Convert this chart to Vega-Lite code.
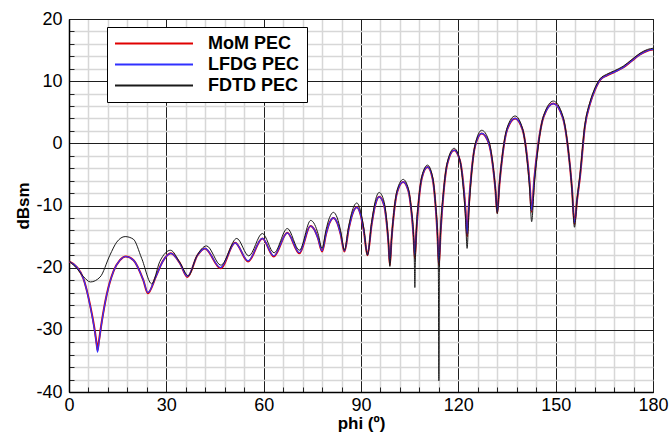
{
  "$schema": "https://vega.github.io/schema/vega-lite/v6.json",
  "width": 584,
  "height": 373,
  "autosize": {"type": "none"},
  "padding": {"left": 69, "top": 19, "right": 17, "bottom": 41},
  "background": "white",
  "config": {
    "view": {"stroke": "black", "strokeWidth": 1},
    "axis": {
      "domainColor": "black",
      "labelFont": "Liberation Sans",
      "labelFontSize": 18,
      "labelColor": "black",
      "titleFont": "Liberation Sans",
      "titleFontSize": 17,
      "titleFontWeight": "bold",
      "titleColor": "black"
    },
    "legend": {
      "orient": "none",
      "legendX": 38,
      "legendY": 8,
      "strokeColor": "black",
      "fillColor": "white",
      "padding": 7,
      "symbolType": "stroke",
      "symbolSize": 6084,
      "symbolStrokeWidth": 2,
      "clipHeight": 19,
      "rowPadding": 2,
      "labelFont": "Liberation Sans",
      "labelFontSize": 18,
      "labelFontWeight": "bold",
      "labelColor": "black",
      "labelOffset": 14
    }
  },
  "datasets": {
    "mom": [
      {"phi": 0, "dbsm": -19.0}, {"phi": 2.4, "dbsm": -19.9}, {"phi": 4.4, "dbsm": -21.7}, {"phi": 6.5, "dbsm": -26.0},
      {"phi": 8.0, "dbsm": -30.3}, {"phi": 8.5, "dbsm": -32.2}, {"phi": 8.8, "dbsm": -33.3}, {"phi": 9.2, "dbsm": -31.9},
      {"phi": 10.1, "dbsm": -28.7}, {"phi": 11.6, "dbsm": -24.4}, {"phi": 13.7, "dbsm": -20.6}, {"phi": 15.7, "dbsm": -18.8},
      {"phi": 17.5, "dbsm": -18.2}, {"phi": 19.9, "dbsm": -18.8}, {"phi": 22.9, "dbsm": -22.0}, {"phi": 24.3, "dbsm": -24.1},
      {"phi": 26.8, "dbsm": -21.4}, {"phi": 29.0, "dbsm": -18.9}, {"phi": 31.4, "dbsm": -17.7}, {"phi": 34.2, "dbsm": -19.3},
      {"phi": 36.5, "dbsm": -21.5}, {"phi": 39.6, "dbsm": -18.0}, {"phi": 41.9, "dbsm": -16.9}, {"phi": 46.7, "dbsm": -20.1},
      {"phi": 51.2, "dbsm": -16.0}, {"phi": 55.2, "dbsm": -19.0}, {"phi": 59.6, "dbsm": -15.3}, {"phi": 63.1, "dbsm": -18.2},
      {"phi": 67.3, "dbsm": -14.4}, {"phi": 71.0, "dbsm": -17.7}, {"phi": 74.4, "dbsm": -13.3}, {"phi": 75.66, "dbsm": -13.92},
      {"phi": 76.74, "dbsm": -15.27}, {"phi": 78.0, "dbsm": -17.4}, {"phi": 79.23, "dbsm": -14.59}, {"phi": 80.28, "dbsm": -12.81},
      {"phi": 81.5, "dbsm": -12.0}, {"phi": 82.69, "dbsm": -12.81}, {"phi": 83.71, "dbsm": -14.59}, {"phi": 84.9, "dbsm": -17.4},
      {"phi": 86.23, "dbsm": -13.71}, {"phi": 87.37, "dbsm": -11.36}, {"phi": 88.7, "dbsm": -10.3}, {"phi": 89.86, "dbsm": -11.45},
      {"phi": 90.85, "dbsm": -14.0}, {"phi": 92.0, "dbsm": -18.0}, {"phi": 93.26, "dbsm": -13.11}, {"phi": 94.34, "dbsm": -10.01},
      {"phi": 95.6, "dbsm": -8.6}, {"phi": 97.09, "dbsm": -9.92}, {"phi": 97.91, "dbsm": -12.78}, {"phi": 98.5, "dbsm": -16.3},
      {"phi": 98.9, "dbsm": -19.6}, {"phi": 99.39, "dbsm": -15.58}, {"phi": 100.13, "dbsm": -11.29}, {"phi": 101.16, "dbsm": -7.81},
      {"phi": 103.0, "dbsm": -6.2}, {"phi": 104.62, "dbsm": -7.68}, {"phi": 105.52, "dbsm": -10.87}, {"phi": 106.17, "dbsm": -14.81},
      {"phi": 106.6, "dbsm": -18.5}, {"phi": 107.07, "dbsm": -14.09}, {"phi": 107.77, "dbsm": -9.39}, {"phi": 108.75, "dbsm": -5.56},
      {"phi": 110.5, "dbsm": -3.8}, {"phi": 112.08, "dbsm": -5.7}, {"phi": 112.95, "dbsm": -9.8}, {"phi": 113.58, "dbsm": -14.86},
      {"phi": 114.0, "dbsm": -19.6}, {"phi": 114.56, "dbsm": -14.05}, {"phi": 115.41, "dbsm": -8.13}, {"phi": 116.59, "dbsm": -3.32},
      {"phi": 118.7, "dbsm": -1.1}, {"phi": 120.5, "dbsm": -2.77}, {"phi": 121.5, "dbsm": -6.38}, {"phi": 122.22, "dbsm": -10.83},
      {"phi": 122.7, "dbsm": -15.0}, {"phi": 123.24, "dbsm": -10.02}, {"phi": 124.05, "dbsm": -4.71}, {"phi": 125.18, "dbsm": -0.39},
      {"phi": 127.2, "dbsm": 1.6}, {"phi": 129.36, "dbsm": 0.06}, {"phi": 130.56, "dbsm": -3.26}, {"phi": 131.42, "dbsm": -7.36},
      {"phi": 132.0, "dbsm": -11.2}, {"phi": 132.66, "dbsm": -6.64}, {"phi": 133.65, "dbsm": -1.78}, {"phi": 135.03, "dbsm": 2.18},
      {"phi": 137.5, "dbsm": 4.0}, {"phi": 139.8, "dbsm": 2.2}, {"phi": 141.07, "dbsm": -1.7}, {"phi": 141.99, "dbsm": -6.5},
      {"phi": 142.6, "dbsm": -11.0}, {"phi": 143.4, "dbsm": -5.78}, {"phi": 144.61, "dbsm": -0.21}, {"phi": 146.29, "dbsm": 4.31},
      {"phi": 149.3, "dbsm": 6.4}, {"phi": 152.23, "dbsm": 4.07}, {"phi": 153.85, "dbsm": -0.97}, {"phi": 155.02, "dbsm": -7.18},
      {"phi": 155.8, "dbsm": -13.0}, {"phi": 156.6, "dbsm": -9.1}, {"phi": 157.5, "dbsm": -5.4}, {"phi": 159.0, "dbsm": 2.7},
      {"phi": 160.6, "dbsm": 6.4}, {"phi": 162.1, "dbsm": 8.6}, {"phi": 163.7, "dbsm": 10.2}, {"phi": 165.7, "dbsm": 10.9},
      {"phi": 168.2, "dbsm": 11.5}, {"phi": 170.8, "dbsm": 12.2}, {"phi": 173.5, "dbsm": 13.3}, {"phi": 176.0, "dbsm": 14.3},
      {"phi": 178.3, "dbsm": 14.9}, {"phi": 180, "dbsm": 15.1}
    ],
    "lfdg": [
      {"phi": 0, "dbsm": -19.0}, {"phi": 2.4, "dbsm": -19.9}, {"phi": 4.4, "dbsm": -21.7}, {"phi": 6.5, "dbsm": -26.1},
      {"phi": 8.0, "dbsm": -30.5}, {"phi": 8.5, "dbsm": -32.4}, {"phi": 8.8, "dbsm": -33.6}, {"phi": 9.2, "dbsm": -32.1},
      {"phi": 10.1, "dbsm": -28.8}, {"phi": 11.6, "dbsm": -24.4}, {"phi": 13.7, "dbsm": -20.6}, {"phi": 15.7, "dbsm": -18.8},
      {"phi": 17.5, "dbsm": -18.2}, {"phi": 19.9, "dbsm": -18.8}, {"phi": 22.9, "dbsm": -22.0}, {"phi": 24.3, "dbsm": -24.0},
      {"phi": 26.8, "dbsm": -21.4}, {"phi": 29.0, "dbsm": -18.9}, {"phi": 31.4, "dbsm": -17.7}, {"phi": 34.2, "dbsm": -19.3},
      {"phi": 36.5, "dbsm": -21.4}, {"phi": 39.6, "dbsm": -18.0}, {"phi": 41.9, "dbsm": -16.9}, {"phi": 46.7, "dbsm": -20.0},
      {"phi": 51.2, "dbsm": -16.0}, {"phi": 55.2, "dbsm": -18.9}, {"phi": 59.6, "dbsm": -15.3}, {"phi": 63.1, "dbsm": -18.1},
      {"phi": 67.3, "dbsm": -14.4}, {"phi": 71.0, "dbsm": -17.6}, {"phi": 74.4, "dbsm": -13.3}, {"phi": 75.66, "dbsm": -13.92},
      {"phi": 76.74, "dbsm": -15.27}, {"phi": 78.0, "dbsm": -17.3}, {"phi": 79.23, "dbsm": -14.59}, {"phi": 80.28, "dbsm": -12.81},
      {"phi": 81.5, "dbsm": -12.0}, {"phi": 82.69, "dbsm": -12.81}, {"phi": 83.71, "dbsm": -14.59}, {"phi": 84.9, "dbsm": -17.3},
      {"phi": 86.23, "dbsm": -13.71}, {"phi": 87.37, "dbsm": -11.36}, {"phi": 88.7, "dbsm": -10.3}, {"phi": 89.86, "dbsm": -11.45},
      {"phi": 90.85, "dbsm": -14.0}, {"phi": 92.0, "dbsm": -17.9}, {"phi": 93.26, "dbsm": -13.11}, {"phi": 94.34, "dbsm": -10.01},
      {"phi": 95.6, "dbsm": -8.6}, {"phi": 97.09, "dbsm": -9.92}, {"phi": 97.91, "dbsm": -12.78}, {"phi": 98.5, "dbsm": -16.3},
      {"phi": 98.9, "dbsm": -19.3}, {"phi": 99.39, "dbsm": -15.58}, {"phi": 100.13, "dbsm": -11.29}, {"phi": 101.16, "dbsm": -7.81},
      {"phi": 103.0, "dbsm": -6.2}, {"phi": 104.62, "dbsm": -7.68}, {"phi": 105.52, "dbsm": -10.87}, {"phi": 106.17, "dbsm": -14.81},
      {"phi": 106.6, "dbsm": -18.0}, {"phi": 107.07, "dbsm": -14.09}, {"phi": 107.77, "dbsm": -9.39}, {"phi": 108.75, "dbsm": -5.56},
      {"phi": 110.5, "dbsm": -3.8}, {"phi": 112.08, "dbsm": -5.7}, {"phi": 112.95, "dbsm": -9.8}, {"phi": 113.58, "dbsm": -14.86},
      {"phi": 114.0, "dbsm": -19.2}, {"phi": 114.56, "dbsm": -14.05}, {"phi": 115.41, "dbsm": -8.13}, {"phi": 116.59, "dbsm": -3.32},
      {"phi": 118.7, "dbsm": -1.1}, {"phi": 120.5, "dbsm": -2.77}, {"phi": 121.5, "dbsm": -6.38}, {"phi": 122.22, "dbsm": -10.83},
      {"phi": 122.7, "dbsm": -14.6}, {"phi": 123.24, "dbsm": -10.02}, {"phi": 124.05, "dbsm": -4.71}, {"phi": 125.18, "dbsm": -0.39},
      {"phi": 127.2, "dbsm": 1.6}, {"phi": 129.36, "dbsm": 0.06}, {"phi": 130.56, "dbsm": -3.26}, {"phi": 131.42, "dbsm": -7.36},
      {"phi": 132.0, "dbsm": -11.0}, {"phi": 132.66, "dbsm": -6.64}, {"phi": 133.65, "dbsm": -1.78}, {"phi": 135.03, "dbsm": 2.18},
      {"phi": 137.5, "dbsm": 4.0}, {"phi": 139.8, "dbsm": 2.2}, {"phi": 141.07, "dbsm": -1.7}, {"phi": 141.99, "dbsm": -6.5},
      {"phi": 142.6, "dbsm": -10.8}, {"phi": 143.4, "dbsm": -5.78}, {"phi": 144.61, "dbsm": -0.21}, {"phi": 146.29, "dbsm": 4.31},
      {"phi": 149.3, "dbsm": 6.4}, {"phi": 152.23, "dbsm": 4.07}, {"phi": 153.85, "dbsm": -0.97}, {"phi": 155.02, "dbsm": -7.18},
      {"phi": 155.8, "dbsm": -12.8}, {"phi": 156.6, "dbsm": -9.1}, {"phi": 157.5, "dbsm": -5.4}, {"phi": 159.0, "dbsm": 2.7},
      {"phi": 160.6, "dbsm": 6.4}, {"phi": 162.1, "dbsm": 8.6}, {"phi": 163.7, "dbsm": 10.2}, {"phi": 165.7, "dbsm": 10.9},
      {"phi": 168.2, "dbsm": 11.5}, {"phi": 170.8, "dbsm": 12.2}, {"phi": 173.5, "dbsm": 13.3}, {"phi": 176.0, "dbsm": 14.3},
      {"phi": 178.3, "dbsm": 14.9}, {"phi": 180, "dbsm": 15.1}
    ],
    "fdtd": [
      {"phi": 0, "dbsm": -18.9}, {"phi": 2.2, "dbsm": -20.0}, {"phi": 4.4, "dbsm": -21.4}, {"phi": 6.6, "dbsm": -22.3},
      {"phi": 9.6, "dbsm": -21.5}, {"phi": 12.6, "dbsm": -18.0}, {"phi": 14.7, "dbsm": -15.9}, {"phi": 17.3, "dbsm": -15.0},
      {"phi": 19.8, "dbsm": -15.4}, {"phi": 22.4, "dbsm": -18.5}, {"phi": 25.5, "dbsm": -22.6}, {"phi": 28.0, "dbsm": -19.0},
      {"phi": 31.3, "dbsm": -17.2}, {"phi": 34.2, "dbsm": -19.2}, {"phi": 36.8, "dbsm": -21.3}, {"phi": 39.3, "dbsm": -18.2},
      {"phi": 42.4, "dbsm": -16.5}, {"phi": 46.8, "dbsm": -19.6}, {"phi": 51.7, "dbsm": -15.3}, {"phi": 55.4, "dbsm": -18.1},
      {"phi": 59.6, "dbsm": -14.5}, {"phi": 63.2, "dbsm": -17.6}, {"phi": 67.3, "dbsm": -13.7}, {"phi": 71.0, "dbsm": -17.2},
      {"phi": 74.5, "dbsm": -12.4}, {"phi": 75.73, "dbsm": -13.07}, {"phi": 76.78, "dbsm": -14.56}, {"phi": 78.0, "dbsm": -16.9},
      {"phi": 79.23, "dbsm": -13.88}, {"phi": 80.28, "dbsm": -11.97}, {"phi": 81.5, "dbsm": -11.1}, {"phi": 82.69, "dbsm": -12.01},
      {"phi": 83.71, "dbsm": -14.03}, {"phi": 84.9, "dbsm": -17.2}, {"phi": 86.23, "dbsm": -13.25}, {"phi": 87.37, "dbsm": -10.74},
      {"phi": 88.7, "dbsm": -9.6}, {"phi": 89.86, "dbsm": -10.86}, {"phi": 90.85, "dbsm": -13.63}, {"phi": 92.0, "dbsm": -18.0},
      {"phi": 93.26, "dbsm": -12.75}, {"phi": 94.34, "dbsm": -9.41}, {"phi": 95.6, "dbsm": -7.9}, {"phi": 97.09, "dbsm": -9.33},
      {"phi": 97.91, "dbsm": -12.42}, {"phi": 98.5, "dbsm": -16.23}, {"phi": 98.9, "dbsm": -19.8}, {"phi": 99.39, "dbsm": -15.6},
      {"phi": 100.13, "dbsm": -11.12}, {"phi": 101.16, "dbsm": -7.48}, {"phi": 103.0, "dbsm": -5.8}, {"phi": 104.62, "dbsm": -7.32},
      {"phi": 105.52, "dbsm": -10.63}, {"phi": 106.17, "dbsm": -14.69}, {"phi": 106.45, "dbsm": -19.2}, {"phi": 106.6, "dbsm": -23.2},
      {"phi": 106.75, "dbsm": -19.2}, {"phi": 107.07, "dbsm": -14.0}, {"phi": 107.77, "dbsm": -9.2}, {"phi": 108.75, "dbsm": -5.3},
      {"phi": 110.5, "dbsm": -3.5}, {"phi": 112.08, "dbsm": -5.43}, {"phi": 112.95, "dbsm": -9.62}, {"phi": 113.58, "dbsm": -14.77},
      {"phi": 113.85, "dbsm": -20.8}, {"phi": 114.0, "dbsm": -38.2}, {"phi": 114.15, "dbsm": -20.8}, {"phi": 114.56, "dbsm": -13.96},
      {"phi": 115.41, "dbsm": -7.94}, {"phi": 116.59, "dbsm": -3.06}, {"phi": 118.7, "dbsm": -0.8}, {"phi": 120.5, "dbsm": -2.73},
      {"phi": 121.5, "dbsm": -6.92}, {"phi": 122.22, "dbsm": -12.07}, {"phi": 122.7, "dbsm": -16.9}, {"phi": 123.24, "dbsm": -11.2},
      {"phi": 124.05, "dbsm": -5.12}, {"phi": 125.18, "dbsm": -0.18}, {"phi": 127.2, "dbsm": 2.1}, {"phi": 129.36, "dbsm": 0.49},
      {"phi": 130.56, "dbsm": -2.99}, {"phi": 131.42, "dbsm": -7.28}, {"phi": 132.0, "dbsm": -11.3}, {"phi": 132.66, "dbsm": -6.59},
      {"phi": 133.65, "dbsm": -1.57}, {"phi": 135.03, "dbsm": 2.52}, {"phi": 137.5, "dbsm": 4.4}, {"phi": 139.8, "dbsm": 2.36},
      {"phi": 141.07, "dbsm": -2.06}, {"phi": 141.99, "dbsm": -7.5}, {"phi": 142.6, "dbsm": -12.6}, {"phi": 143.4, "dbsm": -6.78},
      {"phi": 144.61, "dbsm": -0.57}, {"phi": 146.29, "dbsm": 4.47}, {"phi": 149.3, "dbsm": 6.8}, {"phi": 152.23, "dbsm": 4.36},
      {"phi": 153.85, "dbsm": -0.91}, {"phi": 155.02, "dbsm": -7.41}, {"phi": 155.8, "dbsm": -13.5}, {"phi": 156.6, "dbsm": -9.0},
      {"phi": 157.5, "dbsm": -5.0}, {"phi": 159.0, "dbsm": 3.0}, {"phi": 160.6, "dbsm": 6.7}, {"phi": 162.1, "dbsm": 8.9},
      {"phi": 163.7, "dbsm": 10.4}, {"phi": 165.7, "dbsm": 11.1}, {"phi": 168.2, "dbsm": 11.7}, {"phi": 170.8, "dbsm": 12.4},
      {"phi": 173.5, "dbsm": 13.5}, {"phi": 176.0, "dbsm": 14.5}, {"phi": 178.3, "dbsm": 15.1}, {"phi": 180, "dbsm": 15.3}
    ]
  },
  "layer": [
    {
      "data": {"name": "mom"},
      "mark": {"type": "line", "interpolate": "monotone", "strokeWidth": 2, "clip": true},
      "encoding": {
        "x": {
          "field": "phi", "type": "quantitative",
          "scale": {"domain": [0, 180], "nice": false},
          "axis": {
            "orient": "bottom",
            "values": [6, 12, 18, 24, 36, 42, 48, 54, 66, 72, 78, 84, 96, 102, 108, 114, 126, 132, 138, 144, 156, 162, 168, 174],
            "grid": true, "gridColor": "#d7d7d7", "gridWidth": 1.5,
            "labels": false, "ticks": true, "tickSize": -5, "tickColor": "#222222", "tickWidth": 1,
            "domain": false, "title": null
          }
        },
        "y": {
          "field": "dbsm", "type": "quantitative",
          "scale": {"domain": [-40, 20], "nice": false, "zero": false},
          "axis": {
            "orient": "left",
            "values": [-38, -36, -34, -32, -28, -26, -24, -22, -18, -16, -14, -12, -8, -6, -4, -2, 2, 4, 6, 8, 12, 14, 16, 18],
            "grid": true, "gridColor": "#d7d7d7", "gridWidth": 1.5,
            "labels": false, "ticks": true, "tickSize": -5, "tickColor": "#222222", "tickWidth": 1,
            "domain": false, "title": null
          }
        },
        "color": {
          "datum": "MoM PEC", "type": "nominal",
          "scale": {"domain": ["MoM PEC", "LFDG PEC", "FDTD PEC"], "range": ["#e00000", "#3030ff", "#1a1a1a"]},
          "legend": {"title": null}
        }
      }
    },
    {
      "data": {"name": "lfdg"},
      "mark": {"type": "line", "interpolate": "monotone", "strokeWidth": 1.2, "clip": true},
      "encoding": {
        "x": {
          "field": "phi", "type": "quantitative",
          "axis": {
            "orient": "bottom",
            "values": [0, 30, 60, 90, 120, 150, 180],
            "grid": true, "gridColor": "#1e1e1e", "gridWidth": 1,
            "ticks": false, "labelPadding": 4, "labelFlush": false,
            "domain": true, "domainWidth": 1.5,
            "title": "phi (º)", "titlePadding": 1
          }
        },
        "y": {
          "field": "dbsm", "type": "quantitative",
          "axis": {
            "orient": "left",
            "values": [-40, -30, -20, -10, 0, 10, 20],
            "labelExpr": "datum.value < 0 ? '-' + abs(datum.value) : '' + datum.value",
            "grid": true, "gridColor": "#1e1e1e", "gridWidth": 1,
            "ticks": false, "labelPadding": 7, "labelFlush": false,
            "domain": true, "domainWidth": 1.5,
            "title": "dBsm", "titlePadding": 3
          }
        },
        "color": {"datum": "LFDG PEC", "type": "nominal"}
      }
    },
    {
      "data": {"name": "fdtd"},
      "mark": {"type": "line", "interpolate": "monotone", "strokeWidth": 1, "clip": true},
      "encoding": {
        "x": {"field": "phi", "type": "quantitative", "axis": null},
        "y": {"field": "dbsm", "type": "quantitative", "axis": null},
        "color": {"datum": "FDTD PEC", "type": "nominal"}
      }
    }
  ],
  "resolve": {"axis": {"x": "independent", "y": "independent"}}
}
